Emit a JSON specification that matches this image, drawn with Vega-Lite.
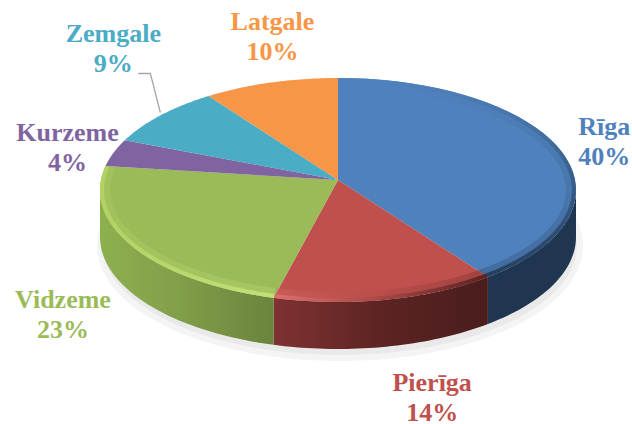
{"$schema":"https://vega.github.io/schema/vega-lite/v6.json","width":632,"height":424,"autosize":{"type":"none"},"padding":0,"background":"white","view":{"stroke":null},"config":{"font":"Liberation Serif"},"data":{"values":[{"n":1,"region":"Rīga","share":40},{"n":2,"region":"Pierīga","share":14},{"n":3,"region":"Vidzeme","share":23},{"n":4,"region":"Kurzeme","share":4},{"n":5,"region":"Zemgale","share":9},{"n":6,"region":"Latgale","share":10}]},"transform":[{"window":[{"op":"sum","field":"share","as":"cum"}],"sort":[{"field":"n"}],"frame":[null,0]},{"calculate":"(datum.cum-datum.share)*0.02*PI","as":"b0"},{"calculate":"datum.cum*0.02*PI","as":"b1"},{"calculate":"datum.b0-0.09*sin(datum.b0)","as":"a0"},{"calculate":"datum.b1-0.09*sin(datum.b1)","as":"a1"},{"calculate":"(datum.a0+datum.a1)/2","as":"mid"},{"calculate":"338+238*sin(datum.mid)","as":"mx"},{"calculate":"190-112*cos(datum.mid)","as":"my"},{"calculate":"datum.region+'\\n'+datum.share+'%'","as":"label"}],"encoding":{"x":{"field":"x","type":"quantitative","scale":{"domain":[0,632],"nice":false,"zero":false},"axis":null},"y":{"field":"y","type":"quantitative","scale":{"domain":[424,0],"nice":false,"zero":false},"axis":null}},"layer":[{"transform":[{"calculate":"sequence(1,42)","as":"k"},{"flatten":["k"]},{"calculate":"datum.a0+(datum.a1-datum.a0)*(datum.k-1)/40","as":"a"},{"calculate":"340+240*sin(datum.a)","as":"x"},{"calculate":"190+56-112*cos(datum.a)","as":"y"}],"mark":{"type":"line","filled":true,"fill":"#e9e9e9","stroke":"#f4f4f4","strokeWidth":6,"interpolate":"linear-closed"},"encoding":{"detail":{"value":"all"},"order":{"field":"a","type":"quantitative"}}},{"transform":[{"filter":"datum.region=='Rīga'||datum.region=='Pierīga'||datum.region=='Vidzeme'"},{"calculate":"max(datum.a0,PI/2)","as":"c0"},{"calculate":"min(datum.a1,3*PI/2)","as":"c1"},{"calculate":"sequence(0,82)","as":"k"},{"flatten":["k"]},{"calculate":"datum.k<=40?datum.k/40:(81-datum.k)/40","as":"t"},{"calculate":"datum.c0+(datum.c1-datum.c0)*datum.t","as":"a"},{"calculate":"338+238*sin(datum.a)","as":"x"},{"calculate":"190+(datum.k<=40?0:47)-112*cos(datum.a)","as":"y"}],"encoding":{"order":{"field":"k","type":"quantitative"}},"layer":[{"transform":[{"filter":"datum.region=='Rīga'"}],"mark":{"type":"line","filled":true,"stroke":null,"interpolate":"linear-closed","fill":"#1f3550"}},{"transform":[{"filter":"datum.region=='Pierīga'"}],"mark":{"type":"line","filled":true,"stroke":null,"interpolate":"linear-closed","fill":{"x1":0,"y1":0,"x2":1,"y2":0,"gradient":"linear","stops":[{"offset":0,"color":"#7f3231"},{"offset":0.5,"color":"#5c2423"},{"offset":1,"color":"#4a1d1d"}]}}},{"transform":[{"filter":"datum.region=='Vidzeme'"}],"mark":{"type":"line","filled":true,"stroke":null,"interpolate":"linear-closed","fill":{"x1":0,"y1":0,"x2":1,"y2":0,"gradient":"linear","stops":[{"offset":0,"color":"#8db04f"},{"offset":0.4,"color":"#84a14a"},{"offset":1,"color":"#6a843d"}]}}}]},{"transform":[{"calculate":"sequence(0,42)","as":"k"},{"flatten":["k"]},{"calculate":"datum.a0+(datum.a1-datum.a0)*(datum.k-1)/40","as":"a"},{"calculate":"datum.k==0?338:338+238*sin(datum.a)","as":"x"},{"calculate":"datum.k==0?180:190-112*cos(datum.a)","as":"y"}],"mark":{"type":"line","filled":true,"stroke":null,"interpolate":"linear-closed"},"encoding":{"color":{"field":"region","type":"nominal","legend":null,"scale":{"domain":["Rīga","Pierīga","Vidzeme","Kurzeme","Zemgale","Latgale"],"range":["#4f81bd","#c0504d","#9bbb59","#8064a2","#4bacc6","#f79646"]}},"order":{"field":"k","type":"quantitative"}}},{"transform":[{"calculate":"sequence(1,42)","as":"k"},{"flatten":["k"]},{"calculate":"datum.a0+(datum.a1-datum.a0)*(datum.k-1)/40","as":"a"},{"calculate":"338+232*sin(datum.a)","as":"x"},{"calculate":"190-106*cos(datum.a)","as":"y"}],"encoding":{"order":{"field":"k","type":"quantitative"}},"layer":[{"transform":[{"filter":"datum.region=='Rīga'"}],"mark":{"type":"line","strokeWidth":8,"strokeOpacity":0.3,"stroke":{"x1":0,"y1":0,"x2":0,"y2":1,"gradient":"linear","stops":[{"offset":0,"color":"#4f81bd"},{"offset":0.45,"color":"#3a6290"},{"offset":1,"color":"#263f60"}]}}},{"transform":[{"filter":"datum.region=='Pierīga'"}],"mark":{"type":"line","strokeWidth":8,"strokeOpacity":0.3,"stroke":{"x1":0,"y1":0,"x2":1,"y2":0,"gradient":"linear","stops":[{"offset":0,"color":"#d9706c"},{"offset":0.45,"color":"#b04b48"},{"offset":1,"color":"#5a2322"}]}}},{"transform":[{"filter":"datum.region=='Vidzeme'"}],"mark":{"type":"line","strokeWidth":8,"strokeOpacity":0.3,"stroke":{"x1":0,"y1":0,"x2":1,"y2":0,"gradient":"linear","stops":[{"offset":0,"color":"#b3d264"},{"offset":1,"color":"#c2e077"}]}}}]},{"transform":[{"calculate":"sequence(1,42)","as":"k"},{"flatten":["k"]},{"calculate":"datum.a0+(datum.a1-datum.a0)*(datum.k-1)/40","as":"a"},{"calculate":"338+236*sin(datum.a)","as":"x"},{"calculate":"190-110*cos(datum.a)","as":"y"}],"encoding":{"order":{"field":"k","type":"quantitative"}},"layer":[{"transform":[{"filter":"datum.region=='Rīga'"}],"mark":{"type":"line","strokeWidth":4,"stroke":{"x1":0,"y1":0,"x2":0,"y2":1,"gradient":"linear","stops":[{"offset":0,"color":"#4f81bd"},{"offset":0.45,"color":"#3a6290"},{"offset":1,"color":"#263f60"}]}}},{"transform":[{"filter":"datum.region=='Pierīga'"}],"mark":{"type":"line","strokeWidth":4,"stroke":{"x1":0,"y1":0,"x2":1,"y2":0,"gradient":"linear","stops":[{"offset":0,"color":"#d9706c"},{"offset":0.45,"color":"#b04b48"},{"offset":1,"color":"#5a2322"}]}}},{"transform":[{"filter":"datum.region=='Vidzeme'"}],"mark":{"type":"line","strokeWidth":4,"stroke":{"x1":0,"y1":0,"x2":1,"y2":0,"gradient":"linear","stops":[{"offset":0,"color":"#b3d264"},{"offset":1,"color":"#c2e077"}]}}}]},{"transform":[{"filter":"datum.region=='Zemgale'"},{"calculate":"sequence(0,3)","as":"k"},{"flatten":["k"]},{"calculate":"datum.k==2?datum.mx:datum.k==1?datum.mx-10:datum.mx-22","as":"x"},{"calculate":"datum.k==2?datum.my-3:datum.my-42","as":"y"}],"mark":{"type":"line","color":"#a6a6a6","strokeWidth":1.3},"encoding":{"order":{"field":"k","type":"quantitative"}}},{"transform":[{"calculate":"datum.mx","as":"x"},{"calculate":"datum.my","as":"y"}],"encoding":{"text":{"field":"label"}},"layer":[{"transform":[{"filter":"datum.region=='Rīga'"}],"mark":{"type":"text","lineBreak":"\n","font":"Liberation Serif","fontWeight":"bold","fontSize":26,"baseline":"middle","lineHeight":30,"color":"#4f81bd","dx":42,"dy":-26}},{"transform":[{"filter":"datum.region=='Pierīga'"}],"mark":{"type":"text","lineBreak":"\n","font":"Liberation Serif","fontWeight":"bold","fontSize":26,"baseline":"middle","lineHeight":30,"color":"#c0504d","dx":46,"dy":83}},{"transform":[{"filter":"datum.region=='Vidzeme'"}],"mark":{"type":"text","lineBreak":"\n","font":"Liberation Serif","fontWeight":"bold","fontSize":26,"baseline":"middle","lineHeight":30,"color":"#9bbb59","dx":-71,"dy":52}},{"transform":[{"filter":"datum.region=='Kurzeme'"}],"mark":{"type":"text","lineBreak":"\n","font":"Liberation Serif","fontWeight":"bold","fontSize":26,"baseline":"middle","lineHeight":30,"color":"#8064a2","dx":-46,"dy":-20}},{"transform":[{"filter":"datum.region=='Zemgale'"}],"mark":{"type":"text","lineBreak":"\n","font":"Liberation Serif","fontWeight":"bold","fontSize":26,"baseline":"middle","lineHeight":30,"color":"#4bacc6","dx":-47,"dy":-81}},{"transform":[{"filter":"datum.region=='Latgale'"}],"mark":{"type":"text","lineBreak":"\n","font":"Liberation Serif","fontWeight":"bold","fontSize":26,"baseline":"middle","lineHeight":30,"color":"#f79646","dx":2,"dy":-61}}]}],"resolve":{"scale":{"color":"independent"}}}
